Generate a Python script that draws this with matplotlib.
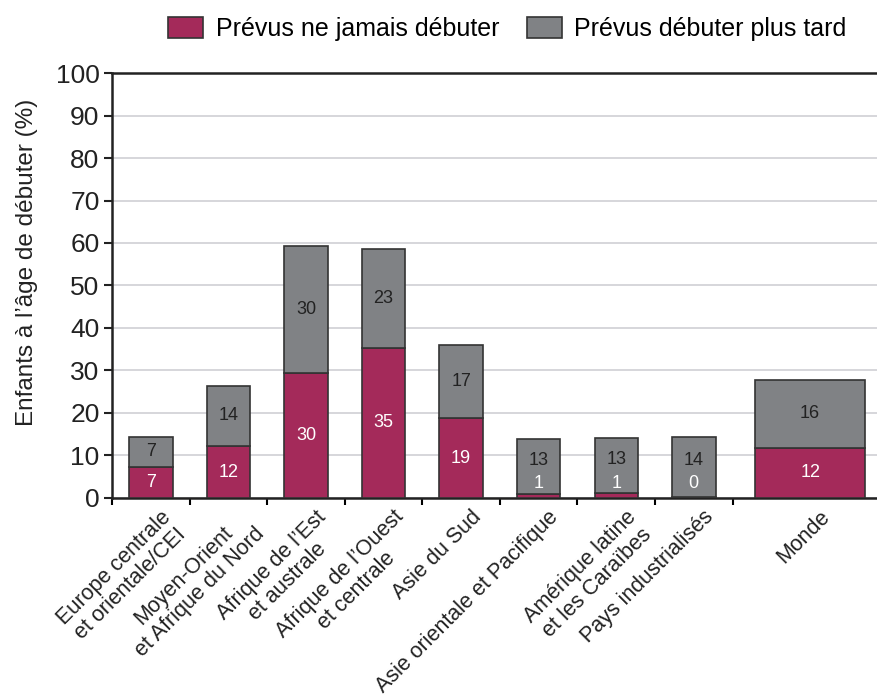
import numpy as np
import matplotlib.pyplot as plt

# =========================
# Données
# =========================

regions = [
    "Europe centrale\net orientale/CEI",
    "Moyen-Orient\net Afrique du Nord",
    "Afrique de l\u2019Est\net australe",
    "Afrique de l\u2019Ouest\net centrale",
    "Asie du Sud",
    "Asie orientale et Pacifique",
    "Am\u00e9rique latine\net les Cara\u00efbes",
    "Pays industrialis\u00e9s",
    "Monde",
]
jamais = [7.3, 12.2, 29.4, 35.3, 18.8, 0.9, 1.2, 0.3, 11.8]       # hauteur barre rouge
plus_tard = [7.1, 14.2, 29.9, 23.3, 17.2, 13.0, 12.9, 14.1, 16.0]  # hauteur barre grise
lab_jamais = [7, 12, 30, 35, 19, 1, 1, 0, 12]
lab_plus_tard = [7, 14, 30, 23, 17, 13, 13, 14, 16]

# positions : 8 régions puis "Monde" plus large
pos = [0, 1, 2, 3, 4, 5, 6, 7, 8.5]
widths = [0.56] * 8 + [1.41]

red = "#a42a5a"
grey = "#808285"
edge = "#333333"
txt = "#222222"

plt.rcParams["font.family"] = ["Liberation Sans", "DejaVu Sans"]

fig = plt.figure(figsize=(8.78, 7.0), dpi=100)
ax = fig.add_axes([0.1276, 0.2886, 0.872, 0.6071])

ax.bar(pos, jamais, width=widths, color=red, edgecolor=edge, linewidth=1.2,
       label="Pr\u00e9vus ne jamais d\u00e9buter", zorder=3)
ax.bar(pos, plus_tard, width=widths, bottom=jamais, color=grey, edgecolor=edge,
       linewidth=1.2, label="Pr\u00e9vus d\u00e9buter plus tard", zorder=3)

for x, r, g, lr, lg in zip(pos, jamais, plus_tard, lab_jamais, lab_plus_tard):
    if r < 3:
        yr = 3.3
        yg = r + g / 2 + 1.5
    else:
        yr = r / 2
        yg = r + g / 2
    ax.text(x, yr, str(lr), ha="center", va="center", color="white",
            fontsize=13, zorder=4)
    ax.text(x, yg, str(lg), ha="center", va="center", color=txt,
            fontsize=13, zorder=4)

ax.set_ylim(0, 100)
ax.set_xlim(-0.5, 9.37)
ax.set_yticks(np.arange(0, 101, 10))
ax.tick_params(axis="y", labelsize=19, length=6, width=1.5, direction="out",
               pad=3, colors=txt)
ax.yaxis.grid(True, color="#d0d0d4", linewidth=1.2, zorder=0)
ax.set_axisbelow(True)

# ticks x aux limites des catégories
ax.set_xticks(np.arange(-0.5, 8.0, 1.0))
ax.set_xticklabels([])
ax.tick_params(axis="x", length=5, width=1.5, direction="out")
for x, name in zip(pos, regions):
    ax.text(x + 0.12, -2.0, name, rotation=45, ha="right", va="top",
            rotation_mode="anchor", fontsize=15.5, color=txt,
            multialignment="center", linespacing=1.15)

for s in ["left", "bottom", "top"]:
    ax.spines[s].set_linewidth(1.8)
    ax.spines[s].set_color(txt)
ax.spines["right"].set_visible(False)

ax.set_ylabel("Enfants \u00e0 l\u2019\u00e2ge de d\u00e9buter (%)", fontsize=17.5,
              color=txt)
ax.yaxis.set_label_coords(-0.097, 0.555)

fig.legend(loc="upper right", bbox_to_anchor=(0.99, 1.008), ncol=2,
           frameon=False, fontsize=18, handlelength=1.4, handleheight=0.9,
           columnspacing=1.1, handletextpad=0.5)

fig.savefig("out.png", dpi=100)
